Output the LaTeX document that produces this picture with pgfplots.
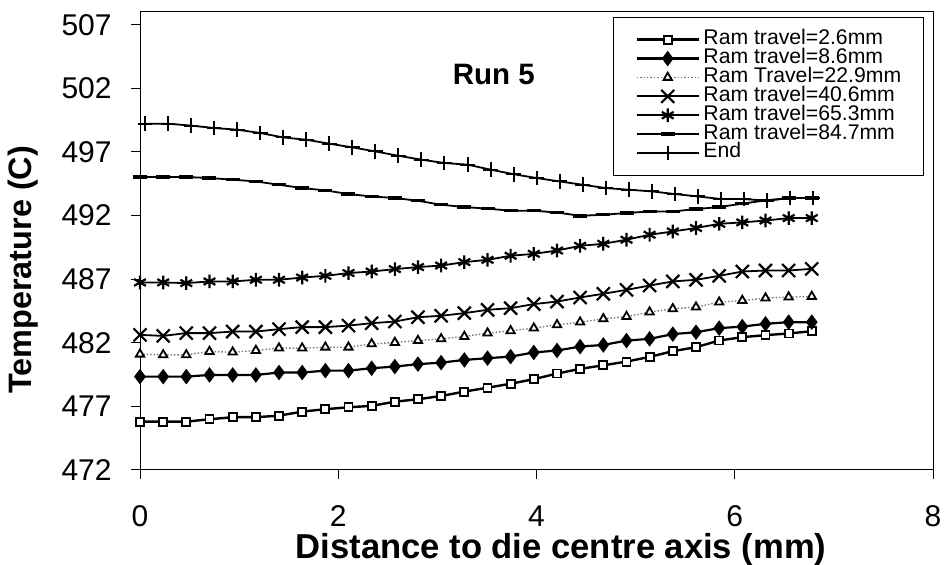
\documentclass[border=0pt]{standalone}
\usepackage{fontspec}
\setmainfont{Liberation Sans}
\usepackage{pgfplots}
\pgfplotsset{compat=1.18}
\usepackage{pgfplotstable}

\pgfplotstableread{
x sq dia tri xx ast dash xe en
0.000 475.80 479.34 481.10 482.62 486.74 495.03 0.050 499.22
0.234 475.80 479.34 481.05 482.54 486.74 495.03 0.282 499.22
0.467 475.80 479.34 481.05 482.76 486.69 495.03 0.515 499.07
0.701 475.99 479.47 481.31 482.76 486.82 494.95 0.747 498.88
0.935 476.15 479.47 481.26 482.88 486.82 494.82 0.980 498.75
1.169 476.15 479.47 481.39 482.88 486.95 494.68 1.212 498.49
1.402 476.27 479.66 481.58 483.07 486.95 494.42 1.444 498.14
1.636 476.59 479.66 481.58 483.23 487.13 494.16 1.677 497.96
1.870 476.78 479.81 481.65 483.23 487.26 493.98 1.909 497.65
2.103 476.93 479.81 481.65 483.35 487.48 493.69 2.142 497.36
2.337 477.04 480.00 481.91 483.54 487.60 493.50 2.374 497.04
2.571 477.37 480.13 482.02 483.67 487.79 493.38 2.606 496.70
2.804 477.56 480.32 482.17 484.01 487.95 493.16 2.839 496.39
3.038 477.82 480.44 482.31 484.12 488.07 492.85 3.071 496.13
3.272 478.16 480.65 482.49 484.33 488.34 492.67 3.304 496.00
3.506 478.47 480.79 482.76 484.59 488.52 492.54 3.536 495.61
3.739 478.78 480.91 482.94 484.72 488.84 492.38 3.768 495.25
3.973 479.14 481.24 483.15 485.04 488.99 492.38 4.001 494.95
4.207 479.58 481.39 483.41 485.24 489.25 492.24 4.233 494.68
4.440 479.95 481.70 483.62 485.56 489.62 491.98 4.466 494.42
4.674 480.23 481.83 483.88 485.85 489.78 492.06 4.698 494.16
4.908 480.52 482.17 484.06 486.16 490.10 492.20 4.930 494.03
5.141 480.89 482.31 484.41 486.50 490.49 492.32 5.163 493.90
5.375 481.34 482.68 484.67 486.82 490.75 492.32 5.395 493.69
5.609 481.65 482.83 484.80 486.95 491.02 492.51 5.628 493.50
5.843 482.18 483.15 485.19 487.26 491.35 492.67 5.860 493.30
6.076 482.44 483.27 485.32 487.60 491.46 492.93 6.092 493.30
6.310 482.60 483.49 485.51 487.68 491.61 493.19 6.325 493.16
6.544 482.73 483.62 485.59 487.68 491.80 493.38 6.557 493.38
6.777 482.91 483.62 485.64 487.81 491.80 493.38 6.790 493.38
}\data

\begin{document}
\begin{tikzpicture}
\begin{axis}[
  name=ax,
  scale only axis,
  width=396.5pt, height=229pt,
  xmin=0, xmax=8, ymin=472, ymax=508,
  xtick={0,2,4,6,8},
  ytick={472,477,482,487,492,497,502,507},
  tick align=outside,
  major tick length=4.5pt,
  xtick pos=bottom, ytick pos=left,
  tick style={black, line width=0.5pt},
  axis line style={line width=0.5pt},
  /pgf/number format/assume math mode=true,
  ticklabel style={font=\fontsize{15pt}{18pt}\selectfont},
  yticklabel style={inner sep=0pt, xshift=-9.5pt},
  xticklabel style={inner sep=0pt, yshift=-13pt},
  xlabel={Distance to die centre axis (mm)},
  ylabel={Temperature (C)},
  xlabel style={at={(axis description cs:0.531,0)}, anchor=base, yshift=-44.5pt, inner sep=0pt, font=\bfseries\fontsize{17.3pt}{20pt}\selectfont},
  ylabel style={at={(axis description cs:-0.1475,0.437)}, anchor=center, inner sep=0pt, font=\bfseries\fontsize{16.2pt}{19pt}\selectfont},
  legend image code/.code={\draw[mark repeat=2,mark phase=2,#1] plot coordinates {(0pt,0pt) (15.5pt,0pt) (31pt,0pt)};},
  legend style={at={(axis description cs:0.5965,0.989)}, anchor=north west,
    draw=black, line width=0.5pt, inner xsep=11pt, inner ysep=6.5pt,
    font=\fontsize{10.6pt}{12pt}\selectfont, row sep=0.3pt,
    nodes={inner sep=0pt, text height=7pt, text depth=2.15pt}},
  legend cell align=left,
]
\addplot[black, line width=1.2pt, mark=square*, mark size=2pt, mark options={fill=white, line width=0.9pt}] table[x=x, y=sq] {\data};
\addlegendentry{\,Ram travel=2.6mm}
\addplot[black, line width=1.1pt, mark=diamond*, mark size=3pt, mark options={fill=black}] table[x=x, y=dia] {\data};
\addlegendentry{\,Ram travel=8.6mm}
\addplot[black!55, densely dotted, line width=0.7pt, mark=triangle*, mark size=2.4pt, mark options={solid, black, fill=white, line width=0.9pt}] table[x=x, y=tri] {\data};
\addlegendentry{\,Ram Travel=22.9mm\hspace{18pt}}
\addplot[black, line width=0.9pt, mark=x, mark size=4.6pt, mark options={line width=1.1pt}] table[x=x, y=xx] {\data};
\addlegendentry{\,Ram travel=40.6mm}
\addplot[black, line width=0.9pt, mark=asterisk, mark size=3.4pt, mark options={line width=1.1pt}] table[x=x, y=ast] {\data};
\addlegendentry{\,Ram travel=65.3mm}
\addplot[black, line width=0.9pt, mark=-, mark size=3.5pt, mark options={line width=1.7pt}] table[x=x, y=dash] {\data};
\addlegendentry{\,Ram travel=84.7mm}
\addplot[black, line width=0.9pt, mark=+, mark size=3.7pt, mark options={line width=1pt}] table[x=xe, y=en] {\data};
\addlegendentry{\,End}
\node[font=\bfseries\fontsize{14.75pt}{17pt}\selectfont] at (axis cs:3.57,503.1) {Run 5};
\end{axis}
\pgfresetboundingbox
\path[use as bounding box] ([shift={(-70pt,-47.5pt)}]ax.south west) rectangle ([shift={(6pt,6pt)}]ax.north east);
\end{tikzpicture}
\end{document}
